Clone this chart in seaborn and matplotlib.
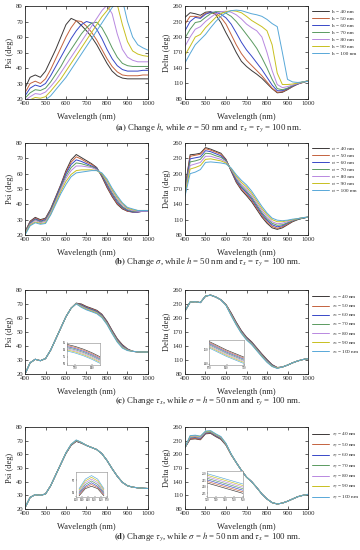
import pandas as pd
import matplotlib
matplotlib.use("Agg")
import matplotlib.pyplot as plt
import seaborn as sns

# wavelength grid (nm) and swept sizes (nm)
wavelength = list(range(400, 1001, 25))
sizes = [40, 50, 60, 70, 80, 90, 100]
colors = ["#3c3838", "#c4623e", "#3848c8", "#5a9a60", "#b888e0", "#c8c020", "#58a8d8"]

# (a) change h
psi_a = [
    [27, 34, 35.5, 34, 38, 45, 52, 60, 68, 72, 70.5, 67.5, 64, 60, 55, 49, 43, 38, 35, 33.5, 33, 33, 33, 33, 33],
    [24, 30, 31.5, 30, 33, 39, 46, 53, 60, 66, 70.5, 70, 67, 63, 58, 52, 46, 41, 37.5, 35.5, 35, 35, 35, 35.5, 35.5],
    [22, 27, 29, 28, 30, 35, 41, 47, 53, 59, 64, 68, 70, 69, 65, 59, 52, 46, 41.5, 39, 38, 38, 38, 38.5, 38.5],
    [20.5, 24, 26, 25.5, 27, 31, 36, 41, 47, 52, 57, 62, 66, 69, 69.5, 66, 60, 53, 47, 43, 41.5, 41, 41, 41, 41],
    [19, 21.5, 23.5, 23, 24.5, 28, 32, 37, 42, 47, 52, 57, 62, 67, 72, 77, 80.5, 75, 62, 52, 47, 45, 44, 44, 44],
    [17, 19.5, 21, 20.5, 21.5, 25, 29, 33, 38, 43, 48, 53, 58, 63, 68, 73, 77, 81, 81, 68, 57, 51, 49, 48, 47.5],
    [15, 17, 18.5, 18.5, 19.5, 22, 26, 30, 34, 39, 44, 49, 54, 59, 64, 69, 74, 79, 83, 84, 70, 60, 55, 53, 51.5],
]
delta_a = [
    [238, 247, 245, 242, 248, 249, 243, 228, 208, 190, 170, 153, 143, 135, 128, 120, 110, 100, 92, 93, 98, 104, 109, 112, 115],
    [225, 240, 240, 238, 246, 247, 246, 238, 225, 205, 185, 168, 155, 145, 135, 125, 113, 101, 93, 94, 99, 104, 109, 112, 115],
    [212, 230, 238, 236, 244, 248, 248, 244, 237, 225, 208, 190, 175, 163, 150, 137, 122, 107, 96, 96, 100, 105, 109, 113, 115],
    [198, 215, 228, 230, 238, 245, 249, 249, 246, 240, 230, 218, 205, 192, 178, 160, 140, 118, 100, 98, 101, 106, 110, 113, 115],
    [182, 200, 215, 220, 230, 238, 245, 249, 250, 248, 243, 235, 225, 218, 212, 200, 170, 135, 108, 102, 104, 107, 110, 113, 115],
    [165, 182, 200, 205, 218, 228, 238, 245, 249, 251, 250, 247, 240, 232, 226, 220, 212, 185, 130, 108, 108, 109, 111, 113, 115],
    [150, 168, 185, 195, 205, 218, 230, 240, 247, 251, 252, 251, 248, 245, 243, 240, 234, 226, 220, 170, 118, 113, 112, 113, 114],
]

# (b) change sigma
psi_b = [
    [22, 29, 31.5, 30, 31, 37, 45, 53, 62, 69, 72.5, 70.5, 68.5, 66.5, 64, 58, 51, 45, 40, 37, 35.5, 35, 35, 35.5, 35.5],
    [22, 28.5, 31, 29.5, 30.5, 36.5, 44.5, 52.5, 61, 67.5, 71, 69.5, 67.5, 66, 63.5, 58.5, 51.5, 45.5, 40.5, 37.5, 35.5, 35, 35, 35.5, 35.5],
    [21.5, 28, 30.5, 29, 30, 36, 44, 52, 60, 66, 69, 68, 66.5, 65, 63.5, 59, 52.5, 46.5, 41.5, 38, 36, 35, 35, 35.5, 35.5],
    [21.5, 27.5, 30, 28.5, 29.5, 35.5, 43, 51, 58.5, 64, 67, 66.5, 65.5, 64.5, 63, 59.5, 53.5, 47.5, 42.5, 38.5, 36.5, 35.5, 35.5, 35.5, 35.5],
    [21, 27, 29.5, 28, 29, 34.5, 42, 50, 57, 62, 65, 65, 64.5, 64, 62.5, 60, 54.5, 48.5, 43.5, 39.5, 37, 36, 35.5, 35.5, 35.5],
    [20.5, 26.5, 28.5, 27.5, 28, 33.5, 41, 48.5, 55, 59.5, 62, 62.5, 62.5, 62.5, 62, 60, 55.5, 49.5, 44.5, 40.5, 37.5, 36.5, 36, 36, 36],
    [20, 26, 28, 27, 27.5, 33, 40, 47, 53, 58, 60.5, 61, 61.5, 62, 62, 60.5, 56.5, 50.5, 45.5, 41, 38, 37, 36, 36, 36],
]
delta_b = [
    [172, 237, 238, 240, 251, 248, 244, 240, 228, 205, 183, 168, 157, 145, 130, 115, 103, 94, 91, 94, 100, 106, 110, 113, 115],
    [170, 234, 236, 238, 249, 246, 242, 238, 227, 206, 185, 170, 160, 148, 133, 118, 106, 97, 93, 96, 101, 107, 111, 113, 115],
    [168, 229, 231, 233, 245, 243, 239, 235, 226, 207, 187, 173, 163, 151, 136, 121, 109, 100, 96, 98, 103, 108, 111, 113, 115],
    [166, 223, 225, 228, 240, 239, 235, 232, 225, 208, 190, 176, 166, 154, 139, 124, 112, 103, 99, 100, 104, 108, 111, 113, 115],
    [163, 216, 219, 222, 234, 234, 231, 228, 223, 209, 192, 179, 170, 158, 143, 128, 116, 106, 102, 103, 106, 109, 112, 114, 115],
    [160, 209, 212, 216, 228, 229, 227, 225, 221, 210, 195, 183, 174, 162, 147, 132, 120, 110, 106, 106, 108, 110, 112, 114, 115],
    [156, 200, 203, 208, 222, 223, 222, 221, 219, 211, 198, 187, 178, 166, 151, 136, 123, 113, 109, 108, 109, 111, 112, 114, 115],
]

# (c) change tau_x
psi_c = [
    [20, 28, 30.5, 29.5, 31, 37, 45, 53, 61, 67, 70.6, 70.0, 68.2, 66.9, 65.5, 62.7, 57.7, 51.2, 45.2, 40.9, 37.9, 36.2, 35.8, 35.7, 35.7],
    [20, 28, 30.5, 29.5, 31, 37, 45, 53, 61, 67, 70.5, 69.6, 67.8, 66.5, 65.1, 62.3, 57.3, 50.8, 44.8, 40.5, 37.7, 36.2, 35.8, 35.7, 35.7],
    [20, 28, 30.5, 29.5, 31, 37, 45, 53, 61, 67, 70.5, 69.2, 67.4, 66.1, 64.7, 61.9, 56.9, 50.4, 44.4, 40.1, 37.5, 36.2, 35.8, 35.7, 35.7],
    [20, 28, 30.5, 29.5, 31, 37, 45, 53, 61, 67, 70.4, 68.8, 67.0, 65.7, 64.3, 61.5, 56.5, 50.0, 44.0, 39.7, 37.3, 36.2, 35.8, 35.7, 35.7],
    [20, 28, 30.5, 29.5, 31, 37, 45, 53, 61, 67, 70.3, 68.4, 66.6, 65.3, 63.9, 61.1, 56.1, 49.6, 43.6, 39.3, 37.1, 36.2, 35.8, 35.7, 35.7],
    [20, 28, 30.5, 29.5, 31, 37, 45, 53, 61, 67, 70.2, 68.0, 66.2, 64.9, 63.5, 60.7, 55.7, 49.2, 43.2, 38.9, 36.9, 36.2, 35.8, 35.7, 35.7],
    [20, 28, 30.5, 29.5, 31, 37, 45, 53, 61, 67, 70.1, 67.6, 65.8, 64.5, 63.1, 60.3, 55.3, 48.8, 42.8, 38.5, 36.7, 36.2, 35.8, 35.7, 35.7],
]
delta_c = [
    [215, 234, 235, 233, 247, 249, 245, 239, 229, 211, 191, 173, 159, 149, 136, 123, 111, 100, 94, 95, 99, 104, 108, 111, 113],
    [215, 234, 235, 233, 247, 249, 245, 239, 228.5, 210, 190, 172, 158, 148, 135, 122, 110, 99.5, 93.5, 95, 99, 104, 108, 111, 113],
    [215, 234, 235, 233, 247, 249, 245, 239, 228, 209, 189, 171, 157, 147, 134, 121, 109, 99, 93, 95, 99, 104, 108, 111, 113],
    [215, 234, 235, 233, 247, 249, 245, 239, 228, 208, 188, 170, 156, 146, 133, 120, 108, 98, 93, 95, 99, 104, 108, 111, 113],
    [215, 234, 235, 233, 247, 249, 245, 239, 228, 207, 187, 169, 155, 145, 132, 119, 107, 97, 93, 95, 99, 104, 108, 111, 113],
    [215, 234, 235, 233, 247, 249, 245, 239, 227.5, 206, 186, 168, 154, 144, 131, 118, 106, 96.5, 92.5, 95, 99, 104, 108, 111, 113],
    [215, 234, 235, 233, 247, 249, 245, 239, 227, 205, 185, 167, 153, 143, 130, 117, 105, 96, 92, 95, 99, 104, 108, 111, 113],
]

# (d) change tau_y
psi_d = [
    [21, 28.5, 30.5, 30, 31, 37, 45, 53, 60.7, 66.6, 69.5, 68.2, 66.5, 65, 63.5, 60.5, 55.5, 49.5, 44, 39.5, 37, 36, 35.5, 35.2, 35],
    [21, 28.5, 30.5, 30, 31, 37, 45, 53, 60.8, 66.7, 69.7, 68.3, 66.5, 65, 63.5, 60.5, 55.5, 49.5, 44, 39.5, 37, 36, 35.5, 35.2, 35],
    [21, 28.5, 30.5, 30, 31, 37, 45, 53, 60.9, 66.8, 69.8, 68.4, 66.5, 65, 63.5, 60.5, 55.5, 49.5, 44, 39.5, 37, 36, 35.5, 35.2, 35],
    [21, 28.5, 30.5, 30, 31, 37, 45, 53, 61.0, 67.0, 70.0, 68.5, 66.5, 65, 63.5, 60.5, 55.5, 49.5, 44, 39.5, 37, 36, 35.5, 35.2, 35],
    [21, 28.5, 30.5, 30, 31, 37, 45, 53, 61.1, 67.1, 70.2, 68.6, 66.5, 65, 63.5, 60.5, 55.5, 49.5, 44, 39.5, 37, 36, 35.5, 35.2, 35],
    [21, 28.5, 30.5, 30, 31, 37, 45, 53, 61.2, 67.2, 70.3, 68.7, 66.5, 65, 63.5, 60.5, 55.5, 49.5, 44, 39.5, 37, 36, 35.5, 35.2, 35],
    [21, 28.5, 30.5, 30, 31, 37, 45, 53, 61.3, 67.4, 70.5, 68.8, 66.5, 65, 63.5, 60.5, 55.5, 49.5, 44, 39.5, 37, 36, 35.5, 35.2, 35],
]
delta_d = [
    [215, 233, 234, 232, 245, 246, 239, 233, 220, 199, 182, 165, 150, 140, 127, 113, 102, 94, 91, 93, 97, 102, 107, 110, 112],
    [215, 234, 235, 233, 246, 247, 240, 234, 221, 199.5, 182, 165, 150, 140, 127, 113, 102, 94, 91, 93, 97, 102, 107, 110, 112],
    [215, 236, 237, 235, 247, 248, 241, 235, 221.5, 200, 182, 165, 150, 140, 127, 113, 102, 94, 91, 93, 97, 102, 107, 110, 112],
    [215, 237, 238, 236, 248, 249, 242, 236, 222, 200, 182, 165, 150, 140, 127, 113, 102, 94, 91, 93, 97, 102, 107, 110, 112],
    [215, 238, 239, 237, 249, 250, 243, 237, 222.5, 200, 182, 165, 150, 140, 127, 113, 102, 94, 91, 93, 97, 102, 107, 110, 112],
    [215, 240, 241, 239, 250, 251, 244, 238, 223, 200.5, 182, 165, 150, 140, 127, 113, 102, 94, 91, 93, 97, 102, 107, 110, 112],
    [215, 241, 242, 240, 251, 252, 245, 239, 224, 201, 182, 165, 150, 140, 127, 113, 102, 94, 91, 93, 97, 102, 107, 110, 112],
]

# zoomed insets
inset_c_psi_x = [770, 780, 790, 800, 810]
inset_c_psi = [
    [64.0, 62.5, 60.5, 58.0, 55.0],
    [63.2, 61.7, 59.7, 57.2, 54.2],
    [62.4, 60.9, 58.9, 56.4, 53.4],
    [61.6, 60.1, 58.1, 55.6, 52.6],
    [60.8, 59.3, 57.3, 54.8, 51.8],
    [60.0, 58.5, 56.5, 54.0, 51.0],
    [59.2, 57.7, 55.7, 53.2, 50.2],
]
inset_c_delta_x = [670, 680, 690, 700, 710]
inset_c_delta = [
    [171, 165, 159, 154, 149],
    [169.5, 163.5, 157.5, 152.5, 147.5],
    [168, 162, 156, 151, 146],
    [166.5, 160.5, 154.5, 149.5, 144.5],
    [165, 159, 153, 148, 143],
    [163.5, 157.5, 151.5, 146.5, 141.5],
    [162, 156, 150, 145, 140],
]
inset_d_psi_x = [625, 635, 645, 655, 665]
inset_d_psi = [
    [68.7, 69.3, 69.5, 69.3, 68.7],
    [68.8, 69.4, 69.65, 69.4, 68.8],
    [68.9, 69.5, 69.8, 69.5, 68.9],
    [69.0, 69.65, 69.95, 69.65, 69.0],
    [69.1, 69.8, 70.1, 69.8, 69.1],
    [69.2, 69.95, 70.25, 69.95, 69.2],
    [69.3, 70.1, 70.4, 70.1, 69.3],
]
inset_d_delta_x = [520, 530, 540, 550, 560]
inset_d_delta = [
    [242.8, 240.8, 238.8, 236.8, 234.8],
    [244.0, 242.0, 240.0, 238.0, 236.0],
    [245.2, 243.2, 241.2, 239.2, 237.2],
    [246.4, 244.4, 242.4, 240.4, 238.4],
    [247.6, 245.6, 243.6, 241.6, 239.6],
    [248.8, 246.8, 244.8, 242.8, 240.8],
    [250.0, 248.0, 246.0, 244.0, 242.0],
]

label_sets = [
    [f"h = {s} nm" for s in sizes],
    [f"σ = {s} nm" for s in sizes],
    [rf"$\tau_x$ = {s} nm" for s in sizes],
    [rf"$\tau_y$ = {s} nm" for s in sizes],
]
captions = [
    r"$\mathbf{(a)}$ Change $h$, while $\sigma$ = 50 nm and $\tau_x$ = $\tau_y$ = 100 nm.",
    r"$\mathbf{(b)}$ Change $\sigma$, while $h$ = 50 nm and $\tau_x$ = $\tau_y$ = 100 nm.",
    r"$\mathbf{(c)}$ Change $\tau_x$, while $\sigma$ = $h$ = 50 nm and $\tau_y$ = 100 nm.",
    r"$\mathbf{(d)}$ Change $\tau_y$, while $\sigma$ = $h$ = 50 nm and $\tau_x$ = 100 nm.",
]

sns.set_theme(style="ticks")
plt.rcParams["font.family"] = ["Liberation Serif", "DejaVu Serif"]
plt.rcParams["mathtext.fontset"] = "stix"
plt.rcParams["axes.linewidth"] = 0.6


def long_frame(x, curves, labels):
    rows = []
    for lab, ys in zip(labels, curves):
        for xi, yi in zip(x, ys):
            rows.append((xi, yi, lab))
    return pd.DataFrame(rows, columns=["wl", "val", "curve"])


def draw(ax, x, curves, labels, lw=0.7, legend=False):
    df = long_frame(x, curves, labels)
    sns.lineplot(data=df, x="wl", y="val", hue="curve", hue_order=labels,
                 palette=colors, linewidth=lw, ax=ax, legend=legend)
    ax.set_xlabel("")
    ax.set_ylabel("")


def style_main(ax, ylim, yticks, ylabel):
    ax.set_xlim(400, 1000)
    ax.set_ylim(*ylim)
    ax.set_xticks(range(400, 1001, 100))
    ax.set_yticks(yticks)
    ax.tick_params(direction="in", labelsize=4.8, length=2, width=0.5, pad=1.5,
                   top=True, right=True)
    ax.set_xlabel("Wavelength (nm)", fontsize=6, labelpad=5)
    ax.set_ylabel(ylabel, fontsize=6, labelpad=1.5)


def inset(ax, x, curves, labels, xlim, ylim, xticks, yticks):
    draw(ax, x, curves, labels, lw=0.45)
    ax.set_xlim(*xlim)
    ax.set_ylim(*ylim)
    ax.set_xticks(xticks)
    ax.set_yticks(yticks)
    ax.tick_params(direction="in", labelsize=2.2, length=1, width=0.3, pad=0.5)
    for s in ax.spines.values():
        s.set_linewidth(0.4)
        s.set_color("#888888")


fig = plt.figure(figsize=(3.6, 5.5), dpi=100)
W, H = 360.0, 550.0

rows_px = [(6, 99), (143, 235), (290, 374), (427, 509)]
caption_y = [128, 262, 401, 537]
legend_spacing = [0.45, 0.45, 0.3, 0.3]
psi_sets = [psi_a, psi_b, psi_c, psi_d]
delta_sets = [delta_a, delta_b, delta_c, delta_d]

for i, (top, bot) in enumerate(rows_px):
    labels = label_sets[i]
    axl = fig.add_axes([25 / W, 1 - bot / H, 123 / W, (bot - top) / H])
    axr = fig.add_axes([185 / W, 1 - bot / H, 123 / W, (bot - top) / H])

    draw(axl, wavelength, psi_sets[i], labels)
    style_main(axl, (20, 80), range(20, 81, 10), "Psi (deg)")

    draw(axr, wavelength, delta_sets[i], labels, legend=True)
    style_main(axr, (80, 260), range(80, 261, 30), "Delta (deg)")
    sns.move_legend(axr, "upper left", bbox_to_anchor=(1.01, 1.0), frameon=False,
                    fontsize=3.8, title=None, handlelength=3.2, handletextpad=0.6,
                    labelspacing=legend_spacing[i], borderaxespad=0.2)

    fig.text(208 / W, 1 - caption_y[i] / H, captions[i], ha="center", va="center",
             fontsize=6.3)

# insets for (c) and (d)
ax_in = fig.add_axes([67 / W, 1 - 365 / H, 33 / W, 22 / H])
inset(ax_in, inset_c_psi_x, inset_c_psi, label_sets[2], (770, 810), (49, 65),
      [780, 800], [50, 55, 60, 65])
ax_in = fig.add_axes([209 / W, 1 - 365 / H, 35 / W, 25 / H])
inset(ax_in, inset_c_delta_x, inset_c_delta, label_sets[2], (670, 710), (138, 173),
      [670, 690, 710], [140, 160])
ax_in = fig.add_axes([76 / W, 1 - 497 / H, 31 / W, 25 / H])
inset(ax_in, inset_d_psi_x, inset_d_psi, label_sets[3], (620, 670), (68.6, 70.7),
      [620, 630, 640, 650, 660, 670], [69, 70])
ax_in = fig.add_axes([207 / W, 1 - 497 / H, 36 / W, 26 / H])
inset(ax_in, inset_d_delta_x, inset_d_delta, label_sets[3], (520, 560), (232, 252),
      [520, 530, 540, 550, 560], [235, 240, 245, 250])

fig.savefig("out.png", dpi=100)
